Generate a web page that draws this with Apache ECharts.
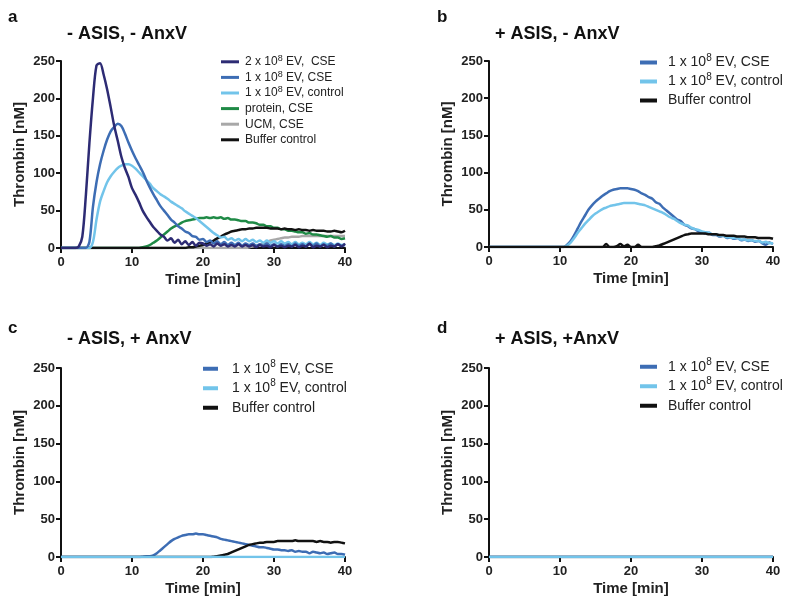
<!DOCTYPE html>
<html>
<head>
<meta charset="utf-8">
<script src="https://cdn.jsdelivr.net/npm/echarts@6/dist/echarts.min.js"></script>
<style>html,body{margin:0;padding:0;background:#fff;}#c{width:800px;height:604px;}</style>
</head>
<body>
<div id="c"></div>
<script>
// time points (min)
var times = [0,0.5,1,1.5,2,2.5,3,3.5,4,4.5,5,5.5,6,6.5,7,7.5,8,8.5,9,9.5,10,10.5,11,11.5,12,12.5,13,13.5,14,14.5,15,15.5,16,16.5,17,17.5,18,18.5,19,19.5,20,20.5,21,21.5,22,22.5,23,23.5,24,24.5,25,25.5,26,26.5,27,27.5,28,28.5,29,29.5,30,30.5,31,31.5,32,32.5,33,33.5,34,34.5,35,35.5,36,36.5,37,37.5,38,38.5,39,39.5,40];

// Panel a: - ASIS, - AnxV
var aEV2CSE = [0,0,0,0,0,2,15,70,140,200,
  244,247,232,212,188,163,143,122,107,95,
  80,71,61,50,42,35,28,23,18,15,
  10,13,7,11,5,9,4,8,3,7,
  6,3,5,2,6,3,5,2,4,2,
  5,2,4,2,4,1,4,2,3,1,
  4,2,3,1,3,2,4,1,3,2,
  6,1,3,2,4,1,3,2,5,2,
  6];
var aEV1CSE = [0,0,0,0,0,0,0,0,8,55,
  88,112,130,145,156,162,166,163,153,141,
  130,120,111,102,91,81,72,64,56,50,
  44,38,34,29,26,22,20,16,15,11,
  12,8,10,6,9,5,8,4,7,4,
  7,3,6,4,6,3,5,3,6,3,
  5,2,5,3,5,2,6,3,5,2,
  5,3,6,2,5,3,6,2,5,3,
  4];
var aEV1Ctrl = [0,0,0,0,0,0,0,0,0,8,
  38,62,76,88,96,102,107,110,112,112,
  110,106,101,96,91,86,80,76,72,69,
  66,62,59,56,53,49,46,43,40,36,
  32,28,24,20,17,14,15,11,13,10,
  12,9,12,9,11,8,10,7,10,7,
  9,6,9,6,8,5,8,5,7,5,
  8,5,7,4,7,5,6,4,6,4,
  5];
var aProtein = [0,0,0,0,0,0,0,0,0,0,
  0,0,0,0,0,0,0,0,0,0,
  0,0,0,1,2,4,7,10,14,18,
  22,26,29,31,34,36,37,38,39,40,
  40,41,40,41,40,41,39,40,38,38,
  37,36,36,34,34,33,31,31,29,29,
  27,27,25,25,23,23,22,21,21,19,
  20,18,18,17,16,15,16,14,14,12,
  13];
var aUCM = [0,0,0,0,0,0,0,0,0,0,
  0,0,0,0,0,0,0,0,0,0,
  0,0,0,0,0,0,0,0,0,0,
  0,0,0,0,0,0,0,0,0,0,
  0,0,0,0,0,0,0,0,0,0,
  0,0,0,1,2,3,4,6,8,10,
  11,12,13,14,14,15,15,15,16,16,
  16,16,16,16,16,16,16,16,16,16,
  16];
var aBuffer = [0,0,0,0,0,0,0,0,0,0,
  0,0,0,0,0,0,0,0,0,0,
  0,0,0,0,0,0,0,0,0,0,
  0,0,0,0,0,0,1,1,2,3,
  4,6,8,10,13,15,18,20,22,23,
  24,25,25,26,26,27,27,27,27,26,
  26,26,25,26,25,25,24,25,24,24,
  23,24,23,23,23,22,22,23,22,21,
  23];

// Panel b: + ASIS, - AnxV
var bEV1CSE = [0,0,0,0,0,0,0,0,0,0,
  0,0,0,0,0,0,0,0,0,0,
  0,0,3,8,16,25,34,42,50,56,
  61,65,69,72,75,77,78,79,79,79,
  78,77,75,72,70,67,65,60,58,53,
  49,45,41,37,35,30,28,25,24,21,
  20,18,19,16,16,14,15,12,13,11,
  12,9,10,8,9,7,8,5,3,6,
  4];
var bEV1Ctrl = [0,0,0,0,0,0,0,0,0,0,
  0,0,0,0,0,0,0,0,0,0,
  0,0,2,6,12,19,25,31,36,41,
  45,48,51,53,55,56,57,58,59,59,
  59,59,58,57,56,54,52,50,48,46,
  43,40,38,35,32,30,29,26,24,23,
  21,20,19,17,17,15,15,13,13,12,
  12,10,10,9,9,8,8,6,7,5,
  5];
var bBuffer = [0,0,0,0,0,0,0,0,0,0,
  0,0,0,0,0,0,0,0,0,0,
  0,0,0,0,0,0,0,0,0,0,
  0,0,0,4,0,0,1,4,1,3,
  0,0,3,0,0,0,0,1,2,4,
  6,8,10,12,14,16,17,18,18,18,
  18,18,17,17,17,16,16,15,15,15,
  14,14,14,13,13,13,12,12,12,12,
  11];

// Panel c: - ASIS, + AnxV
var cEV1CSE = [0,0,0,0,0,0,0,0,0,0,
  0,0,0,0,0,0,0,0,0,0,
  0,0,0,0.5,1,1,2,5,9,13,
  17,21,24,26,28,29,30,30,31,30,
  30,29,28,27,26,24,23,22,21,20,
  19,18,17,16,15,14,13,13,12,11,
  10,10,9,9,8,9,7,8,7,7,
  5,7,6,5,6,4,5,6,4,4,
  3];
var cEV1Ctrl = [0,0,0,0,0,0,0,0,0,0,
  0,0,0,0,0,0,0,0,0,0,
  0,0,0,0,0,0,0,0,0,0,
  0,0,0,0,0,0,0,0,0,0,
  0,0,0,0,0,0,0,0,0,0,
  0,0,0,0,0,0,0,0,0,0,
  0,0,0,0,0,0,0,0,0,0,
  0,0,0,0,0,0,0,0,0,0,
  0];
var cBuffer = [0,0,0,0,0,0,0,0,0,0,
  0,0,0,0,0,0,0,0,0,0,
  0,0,0,0,0,0,0,0,0,0,
  0,0,0,0,0,0,0,0,0,0,
  0,0,0,0.5,1,2,3,4,6,8,
  10,12,14,16,17,18,19,19,20,20,
  20,21,21,21,21,21,22,21,21,21,
  21,21,20,21,20,20,19,20,20,19,
  18];

// Panel d: + ASIS, +AnxV
var dEV1CSE = [0,0,0,0,0,0,0,0,0,0,
  0,0,0,0,0,0,0,0,0,0,
  0,0,0,0,0,0,0,0,0,0,
  0,0,0,0,0,0,0,0,0,0,
  0,0,0,0,0,0,0,0,0,0,
  0,0,0,0,0,0,0,0,0,0,
  0,0,0,0,0,0,0,0,0,0,
  0,0,0,0,0,0,0,0,0,0,
  0];
var dEV1Ctrl = [0,0,0,0,0,0,0,0,0,0,
  0,0,0,0,0,0,0,0,0,0,
  0,0,0,0,0,0,0,0,0,0,
  0,0,0,0,0,0,0,0,0,0,
  0,0,0,0,0,0,0,0,0,0,
  0,0,0,0,0,0,0,0,0,0,
  0,0,0,0,0,0,0,0,0,0,
  0,0,0,0,0,0,0,0,0,0,
  0];
var dBuffer = [0,0,0,0,0,0,0,0,0,0,
  0,0,0,0,0,0,0,0,0,0,
  0,0,0,0,0,0,0,0,0,0,
  0,0,0,0,0,0,0,0,0,0,
  0,0,0,0,0,0,0,0,0,0,
  0,0,0,0,0,0,0,0,0,0,
  0,0,0,0,0,0,0,0,0,0,
  0,0,0,0,0,0,0,0,0,0,
  0];

var panelLetters = ['a','b','c','d'];
var panelTitles = ['- ASIS, - AnxV','+ ASIS, - AnxV','- ASIS, + AnxV','+ ASIS, +AnxV'];
var xTicks = [0,10,20,30,40];
var yTicks = [0,50,100,150,200,250];
var xName = 'Time [min]';
var yName = 'Thrombin [nM]';

var N_EV2CSE = '2 x 10^8 EV,  CSE';
var N_EV1CSE = '1 x 10^8 EV, CSE';
var N_EV1CTRL = '1 x 10^8 EV, control';
var N_PROT = 'protein, CSE';
var N_UCM = 'UCM, CSE';
var N_BUF = 'Buffer control';

var COL = {};
COL[N_EV2CSE] = '#2d2b74';
COL[N_EV1CSE] = '#3d6db4';
COL[N_EV1CTRL] = '#72c4ea';
COL[N_PROT] = '#1f8a46';
COL[N_UCM] = '#a8a8a8';
COL[N_BUF] = '#111111';

var FONT = '"Liberation Sans", Arial, Helvetica, sans-serif';

function pairs(vals){ return times.map(function(t,i){ return [t, vals[i]]; }); }

var grids = [
  {left:61, top:61, width:284, height:187},
  {left:489, top:61, width:284, height:186},
  {left:61, top:368, width:284, height:189},
  {left:489, top:368, width:284, height:189}
];

var xAxes = [], yAxes = [];
grids.forEach(function(g, i){
  xAxes.push({
    type:'value', gridIndex:i, min:xTicks[0], max:xTicks[xTicks.length-1], interval:10,
    name:xName, nameLocation:'middle', nameGap:24,
    nameTextStyle:{fontFamily:FONT, fontWeight:'bold', fontSize:15, color:'#222'},
    axisLine:{show:true, onZero:false, lineStyle:{color:'#111', width:2}},
    axisTick:{show:true, length:5, lineStyle:{color:'#111', width:2}},
    axisLabel:{fontFamily:FONT, fontWeight:'bold', fontSize:13, color:'#222', margin:8},
    splitLine:{show:false}
  });
  yAxes.push({
    type:'value', gridIndex:i, min:yTicks[0], max:yTicks[yTicks.length-1], interval:50,
    name:yName, nameLocation:'middle', nameGap:34,
    nameTextStyle:{fontFamily:FONT, fontWeight:'bold', fontSize:15, color:'#222'},
    axisLine:{show:true, lineStyle:{color:'#111', width:2}},
    axisTick:{show:true, length:5, lineStyle:{color:'#111', width:2}},
    axisLabel:{fontFamily:FONT, fontWeight:'bold', fontSize:13, color:'#222', margin:6},
    splitLine:{show:false}
  });
});

function mk(name, vals, gi){
  return {
    type:'line', name:name, xAxisIndex:gi, yAxisIndex:gi, data:pairs(vals),
    showSymbol:false, symbol:'none', smooth:0.3, animation:false,
    lineStyle:{color:COL[name], width:2.5}, itemStyle:{color:COL[name]}
  };
}

var series = [
  mk(N_UCM, aUCM, 0), mk(N_PROT, aProtein, 0), mk(N_BUF, aBuffer, 0),
  mk(N_EV1CTRL, aEV1Ctrl, 0), mk(N_EV1CSE, aEV1CSE, 0), mk(N_EV2CSE, aEV2CSE, 0),
  mk(N_EV1CSE, bEV1CSE, 1), mk(N_EV1CTRL, bEV1Ctrl, 1), mk(N_BUF, bBuffer, 1),
  mk(N_EV1CSE, cEV1CSE, 2), mk(N_BUF, cBuffer, 2), mk(N_EV1CTRL, cEV1Ctrl, 2),
  mk(N_BUF, dBuffer, 3), mk(N_EV1CSE, dEV1CSE, 3), mk(N_EV1CTRL, dEV1Ctrl, 3)
];

function fmt(n){ return n.replace('10^8', '10{sup|8}'); }

function legend(left, top, names, fontSize, lh, iw, ih, pad){
  return {
    orient:'vertical', left:left, top:top, padding:0, itemGap:0, itemWidth:iw, itemHeight:ih,
    icon:'rect', selectedMode:false, data:names, formatter:fmt,
    textStyle:{fontFamily:FONT, fontSize:fontSize, color:'#222', lineHeight:lh, padding:[0,0,0,pad],
      rich:{sup:{fontFamily:FONT, fontSize:Math.round(fontSize*0.72), color:'#222', lineHeight:Math.round(fontSize*0.45), verticalAlign:'top'}}}
  };
}

var titles = [];
var letterPos = [[8,9],[437,9],[8,320],[437,320]];
var titlePos = [[67,25],[495,25],[67,330],[495,330]];
for (var i=0;i<4;i++){
  titles.push({text:panelLetters[i], left:letterPos[i][0], top:letterPos[i][1], padding:0, textStyle:{fontFamily:FONT, fontWeight:'bold', fontSize:17, color:'#111'}});
  titles.push({text:panelTitles[i], left:titlePos[i][0], top:titlePos[i][1], padding:0, textStyle:{fontFamily:FONT, fontWeight:'bold', fontSize:18, color:'#111'}});
}

var option = {
  backgroundColor:'#fff',
  animation:false,
  title:titles,
  grid:grids,
  xAxis:xAxes,
  yAxis:yAxes,
  legend:[
    legend(221, 54, [N_EV2CSE, N_EV1CSE, N_EV1CTRL, N_PROT, N_UCM, N_BUF], 12, 15.6, 18, 3, 1),
    legend(640, 53, [N_EV1CSE, N_EV1CTRL, N_BUF], 14, 19, 17, 4, 6),
    legend(203, 359, [N_EV1CSE, N_EV1CTRL, N_BUF], 14, 19.5, 15, 4, 9),
    legend(640, 357, [N_EV1CSE, N_EV1CTRL, N_BUF], 14, 19.5, 17, 4, 6)
  ],
  series:series
};

var chart = echarts.init(document.getElementById('c'), null, {renderer:'canvas'});
chart.setOption(option);
</script>
</body>
</html>
